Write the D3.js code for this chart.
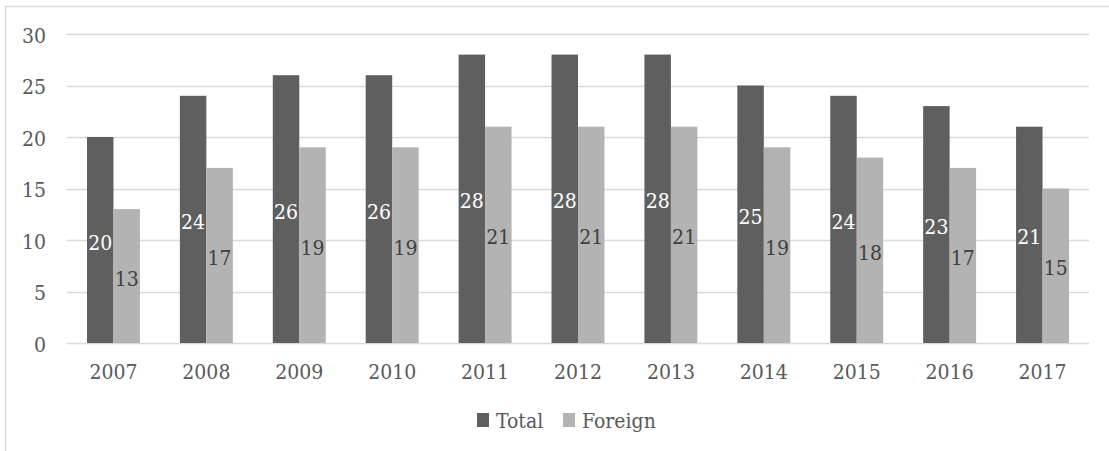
<!DOCTYPE html>
<html><head><meta charset="utf-8">
<script src="https://cdn.jsdelivr.net/npm/d3@7"></script>
<style>body{margin:0;background:#fff;} svg{display:block;}</style>
</head><body>
<svg id="chart" width="1109" height="451"></svg>
<script>
const years = ["2007","2008","2009","2010","2011","2012","2013","2014","2015","2016","2017"];
const total = [20,24,26,26,28,28,28,25,24,23,21];
const foreign = [13,17,19,19,21,21,21,19,18,17,15];
const seriesNames = ["Total","Foreign"];
const yTicks = [0,5,10,15,20,25,30];
const colors = ["#5f5f5f","#b3b3b3"];
const labelColors = ["#ffffff","#404040"];
const FONT = "'DejaVu Serif Condensed', 'DejaVu Serif', serif";
const FS = 21;
const textColor = "#595959";

(function(){
const svg = d3.select("#chart");
svg.append("rect").attr("x",5.5).attr("y",6.5).attr("width",1120).attr("height",460)
  .attr("fill","#fff").attr("stroke","#d9d9d9").attr("stroke-width",1.5);

const mLeft=67, mRight=1089, mTop=34, mBottom=343;
const x = d3.scaleBand().domain(years).range([mLeft,mRight]).paddingInner(0.43).paddingOuter(0.215);
const xs = d3.scaleBand().domain(seriesNames).range([0,x.bandwidth()]);
const y = d3.scaleLinear().domain([0,30]).range([mBottom,mTop]);

svg.append("g").selectAll("line").data(yTicks).join("line")
  .attr("x1",mLeft).attr("x2",mRight).attr("y1",d=>Math.round(y(d))+0.5).attr("y2",d=>Math.round(y(d))+0.5)
  .attr("stroke","#d9d9d9").attr("stroke-width",1.3);

const setFont = sel => sel.attr("font-family",FONT).attr("font-size",FS).attr("font-stretch","condensed").attr("font-weight","normal");

const yAxis = d3.axisLeft(y).tickValues(yTicks).tickSize(0).tickPadding(0);
const gy = svg.append("g").attr("transform",`translate(${mLeft-21},0)`).call(yAxis);
gy.select(".domain").remove();
gy.selectAll("text").call(setFont).attr("fill",textColor).attr("y",8).attr("dy","0");

const xAxis = d3.axisBottom(x).tickSize(0).tickPadding(0);
const gx = svg.append("g").attr("transform",`translate(0,${mBottom})`).call(xAxis);
gx.select(".domain").remove();
gx.selectAll("text").call(setFont).attr("fill",textColor).attr("y",36).attr("dy","0");

const data = years.map((yr,i)=>({year:yr, vals:[{s:"Total",v:total[i],k:0},{s:"Foreign",v:foreign[i],k:1}]}));
const groups = svg.append("g").selectAll("g").data(data).join("g")
  .attr("transform",d=>`translate(${x(d.year)},0)`);
groups.selectAll("rect").data(d=>d.vals).join("rect")
  .attr("x",d=>xs(d.s)).attr("width",xs.bandwidth())
  .attr("y",d=>y(d.v)).attr("height",d=>y(0)-y(d.v))
  .attr("fill",d=>colors[d.k]);
groups.selectAll("text").data(d=>d.vals).join("text")
  .attr("x",d=>xs(d.s)+xs.bandwidth()/2).attr("y",d=>y(d.v/2)+9.5)
  .attr("text-anchor","middle")
  .call(setFont).attr("fill",d=>labelColors[d.k])
  .text(d=>d.v);

const legend = svg.append("g").attr("transform","translate(477,0)");
const lx = [0,86];
seriesNames.forEach((s,i)=>{
  legend.append("rect").attr("x",lx[i]).attr("y",413).attr("width",12).attr("height",14).attr("fill",colors[i]);
  legend.append("text").attr("x",lx[i]+19).attr("y",428)
    .call(setFont).attr("fill",textColor).text(s);
});
})();
</script>
</body></html>
